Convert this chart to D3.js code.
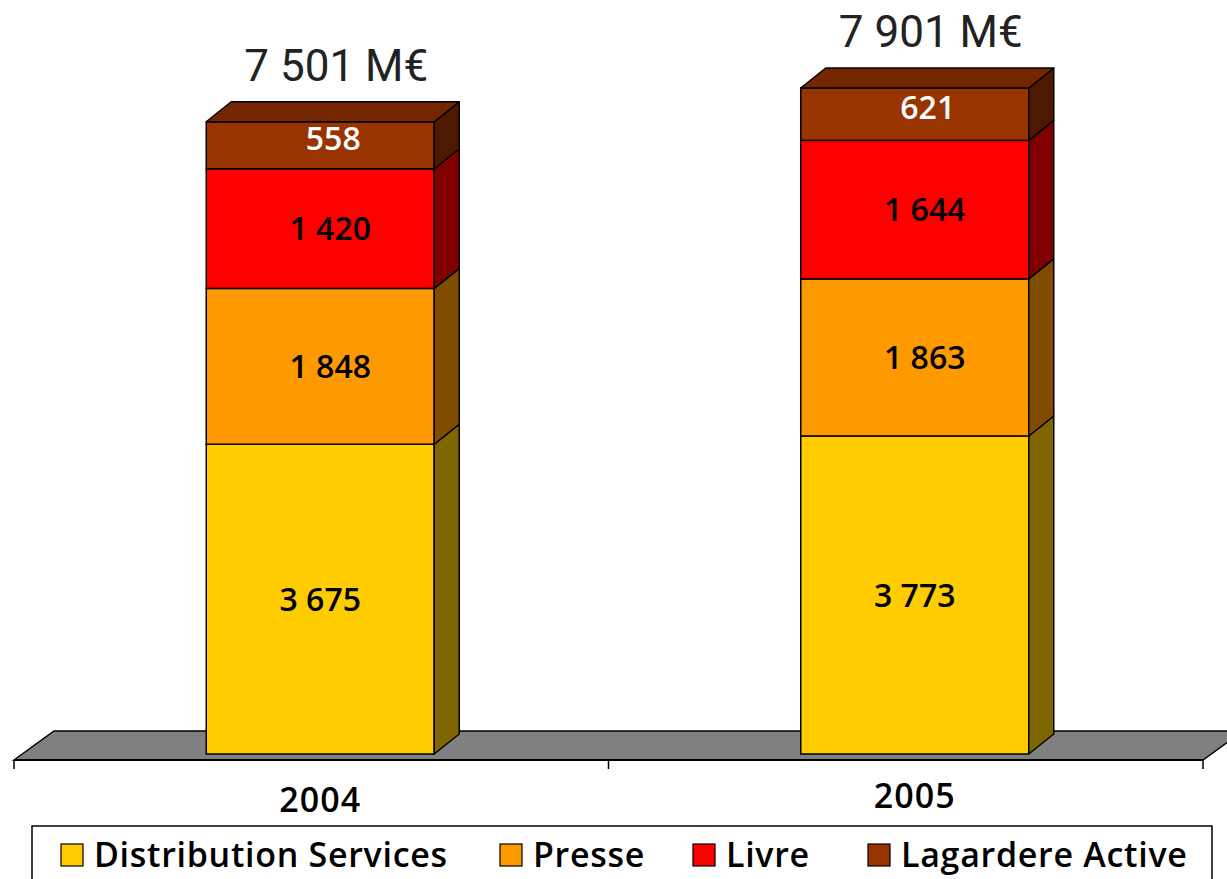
<!DOCTYPE html>
<html><head><meta charset="utf-8">
<script src="https://cdn.jsdelivr.net/npm/d3@7"></script>
<style>
html,body{margin:0;padding:0;background:#fff;}
svg{display:block;}
text{font-family:"Open Sans",sans-serif;}
</style></head>
<body>
<svg id="chart" width="1227" height="879"></svg>
<script>
const categories = ["2004", "2005"];
const seriesNames = ["Distribution Services", "Presse", "Livre", "Lagardere Active"];
const distribution = [3675, 3773];
const presse = [1848, 1863];
const livre = [1420, 1644];
const lagardere = [558, 621];
const colors = ["#FFCC00", "#FF9900", "#FF0000", "#993300"];

const seriesValues = [distribution, presse, livre, lagardere];
const svg = d3.select("#chart");
const dx = 25, dy = -20;     // 3D depth offset of bars
const fdx = 40, fdy = -29;   // floor depth offset

const x = d3.scaleBand().domain(categories).range([14, 1203]);
const totals = categories.map((c, i) => d3.sum(seriesValues, s => s[i]));
const y = d3.scaleLinear().domain([0, d3.max(totals)]).range([754, 88]);
const fmt = d3.formatLocale({decimal: ",", thousands: " ", grouping: [3], currency: ["", " M€"]}).format(",d");

// floor
const floorY = 760;
svg.append("path")
  .attr("d", `M${x.range()[0]},${floorY} L${x.range()[0] + fdx},${floorY + fdy} L${x.range()[1] + fdx},${floorY + fdy} L${x.range()[1]},${floorY} Z`)
  .attr("fill", "#808080").attr("stroke", "#000").attr("stroke-width", 1.5);

// axis
const axisG = svg.append("g").attr("transform", `translate(0,${floorY})`);
axisG.append("line").attr("x1", x.range()[0]).attr("x2", x.range()[1]).attr("stroke", "#000").attr("stroke-width", 2);
const tickXs = categories.map(c => x(c)).concat([x.range()[1]]);
axisG.selectAll("line.tick").data(tickXs).join("line").attr("class", "tick")
  .attr("x1", d => d).attr("x2", d => d).attr("y1", 0).attr("y2", 9)
  .attr("stroke", "#000").attr("stroke-width", 1.5);

// stacked data
const stackData = categories.map((c, i) => {
  let acc = 0;
  return seriesValues.map((s, k) => { const y0 = acc; acc += s[i]; return {cat: c, k, v: s[i], y0, y1: acc}; });
});

const barW = 228;
const barOff = 9;
function shade(col, f) { const c = d3.rgb(col); return d3.rgb(c.r * f, c.g * f, c.b * f).formatHex(); }

stackData.forEach((segs, i) => {
  const cx = x(categories[i]) + x.bandwidth() / 2 + barOff;
  const x0 = cx - barW / 2, x1 = cx + barW / 2;
  const g = svg.append("g");
  segs.forEach((s, idx) => {
    const yt = y(s.y1), yb = y(s.y0);
    const isTop = idx === segs.length - 1;
    // front
    g.append("rect").attr("x", x0).attr("y", yt).attr("width", barW).attr("height", yb - yt)
      .attr("fill", colors[s.k]).attr("stroke", "#000").attr("stroke-width", 1.5);
    // side
    g.append("path").attr("d", `M${x1},${yb} L${x1 + dx},${yb + dy} L${x1 + dx},${yt + dy} L${x1},${yt} Z`)
      .attr("fill", shade(colors[s.k], 0.5)).attr("stroke", "#000").attr("stroke-width", 1.5).attr("stroke-linejoin", "round");
    if (isTop) {
      g.append("path").attr("d", `M${x0},${yt} L${x0 + dx},${yt + dy} L${x1 + dx},${yt + dy} L${x1},${yt} Z`)
        .attr("fill", shade(colors[s.k], 0.75)).attr("stroke", "#000").attr("stroke-width", 1.5).attr("stroke-linejoin", "round");
    }
    g.append("text").attr("x", cx + (isTop ? 13 : (idx > 0 ? 10 : 0))).attr("y", (yt + yb) / 2 + (isTop ? -7 : 0))
      .attr("dy", "0.36em").attr("text-anchor", "middle")
      .attr("font-size", 32).attr("font-weight", 600)
      .attr("fill", isTop ? "#fff" : "#000")
      .text(fmt(s.v));
  });
  // total label
  svg.append("text").attr("x", cx + 16).attr("y", y(totals[i]) + dy - 21)
    .attr("text-anchor", "middle").attr("font-size", 44).attr("font-weight", 400)
    .style("font-family", "Roboto, sans-serif").attr("fill", "#222")
    .text(fmt(totals[i]) + " M€");
  // category label
  svg.append("text").attr("x", cx).attr("y", i === 0 ? 812 : 808)
    .attr("text-anchor", "middle").attr("font-size", 34).attr("font-weight", 600).attr("fill", "#000")
    .attr("letter-spacing", 1)
    .text(categories[i]);
});

// legend
const lg = svg.append("g");
lg.append("rect").attr("x", 32).attr("y", 826).attr("width", 1180).attr("height", 80)
  .attr("fill", "#fff").attr("stroke", "#000").attr("stroke-width", 1.5);
const legendX = [61, 500, 693, 868];
seriesNames.forEach((n, k) => {
  lg.append("rect").attr("x", legendX[k]).attr("y", 844).attr("width", 22).attr("height", 22)
    .attr("fill", colors[k]).attr("stroke", "#000").attr("stroke-width", 1.2);
  lg.append("text").attr("x", legendX[k] + 33).attr("y", 867)
    .attr("font-size", 34).attr("font-weight", 600).attr("letter-spacing", 0.7).attr("fill", "#000").text(n);
});
</script>
</body></html>
